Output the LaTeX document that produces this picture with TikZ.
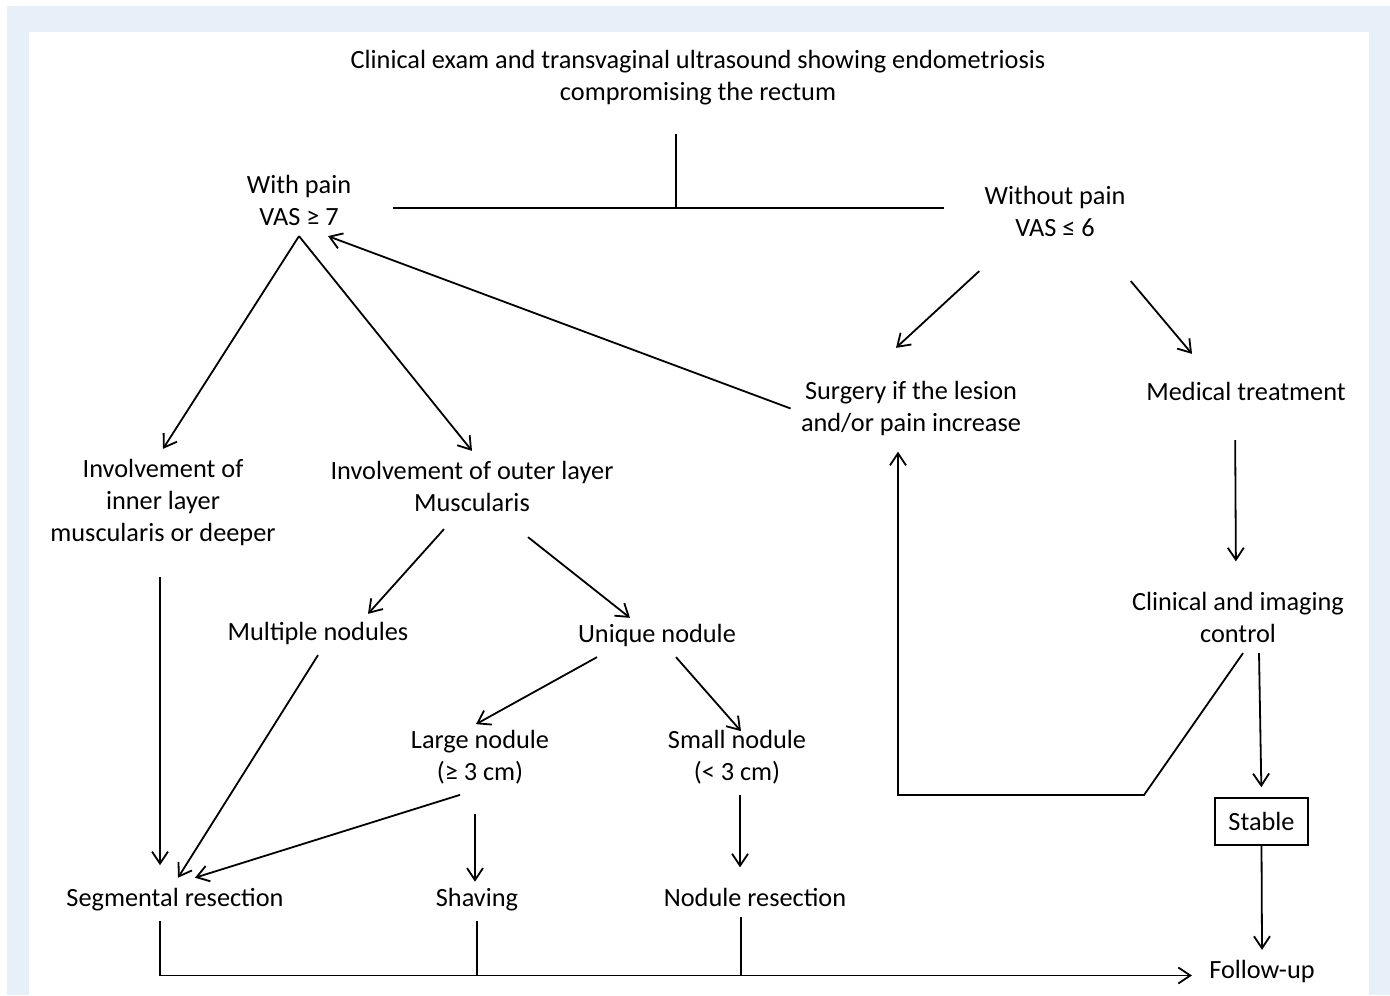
\documentclass[tikz,border=0pt]{standalone}
\usepackage{fontspec}
\setmainfont{Carlito}
\usepackage{tikz}
\usetikzlibrary{arrows.meta, positioning, calc}
\definecolor{framecolor}{RGB}{231, 239, 248}

\begin{document}
\begin{tikzpicture}[
    x=0.5pt, y=-0.5pt,
    entity/.style={align=center, inner sep=5pt, yshift=-1.25pt, font=\fontsize{13.15}{16}\selectfont},
    boxed/.style={align=center, draw, line width=0.8pt, minimum width=46.5pt, minimum height=23.5pt, font=\fontsize{13.15}{16}\selectfont},
    arrow/.style={-{Straight Barb[length=6pt, width=8pt]}, line width=0.9pt},
    link/.style={line width=0.9pt}
]
    % Frame
    \useasboundingbox (0,0) rectangle (1390,995);
    \fill[framecolor] (7,6) rectangle (1390,995);
    \fill[white] (29,32) rectangle (1369,995);

    % Main entities
    \node[entity] (exam) at (698,75) {Clinical exam and transvaginal ultrasound showing endometriosis\\compromising the rectum};
    \node[entity] (withpain) at (299,198) {With pain\\VAS ≥ 7};
    \node[entity] (nopain) at (1055,209) {Without pain\\VAS ≤ 6};
    \node[entity] (surgery) at (911,406) {Surgery if the lesion\\and/or pain increase};
    \node[entity] (medical) at (1246,389) {Medical treatment};
    \node[entity] (inner) at (163,500) {Involvement of\\inner layer\\muscularis or deeper};
    \node[entity] (outer) at (472,484) {Involvement of outer layer\\Muscularis};
    \node[entity] (multiple) at (318,631) {Multiple nodules};
    \node[entity] (unique) at (657,633) {Unique nodule};
    \node[entity] (clinical) at (1238,615) {Clinical and imaging\\control};
    \node[entity] (large) at (480,755) {Large nodule\\(≥ 3 cm)};
    \node[entity] (small) at (737,755) {Small nodule\\(< 3 cm)};
    \node[boxed] (stable) at (1261.5,821.5) {Stable};
    \node[entity] (segmental) at (175,897) {Segmental resection};
    \node[entity] (shaving) at (477,897) {Shaving};
    \node[entity] (noduleres) at (755,895) {Nodule resection};
    \node[entity] (followup) at (1262,969) {Follow-up};

    % Helper points
    \coordinate (split) at (676,208);
    \coordinate (bend) at (1144,795);
    \coordinate (busend) at ([yshift=-2pt]followup.west);
    \coordinate (resdrop) at ([xshift=-7pt]noduleres.south);

    % Pain split
    \draw[link, shorten <=9.5pt] (exam.south -| split) -- (split);
    \draw[link, shorten <=15.75pt, shorten >=15pt] (withpain.east |- split) -- (nopain.west |- split);

    % Relationships
    \draw[arrow] (withpain.south) -- (inner.north);
    \draw[arrow] (withpain.south) -- (outer.north);
    \draw[arrow] (surgery.west) -- ([xshift=14.5pt]withpain.south);
    \draw[arrow] ([xshift=2.5pt, yshift=-12pt]nopain.south west) -- ([xshift=-7.5pt, yshift=11.5pt]surgery.north);
    \draw[arrow] ([xshift=-2.5pt, yshift=-17pt]nopain.south east) -- ([xshift=-27pt, yshift=9pt]medical.north);
    \draw[arrow, shorten <=14.5pt, shorten >=10.25pt] ([xshift=-5.5pt]medical.south) -- ([xshift=-1pt]clinical.north);
    \draw[arrow, shorten >=5pt] ([xshift=10.5pt]clinical.south) -- (stable.north);
    \draw[arrow, shorten >=2.75pt] ([xshift=2.5pt]clinical.south) -- (bend) -| ([xshift=-6.5pt]surgery.south);
    \draw[arrow] (stable.south) -- (followup.north);
    \draw[arrow, shorten <=10.5pt, shorten >=6.25pt] ([xshift=-1.5pt]inner.south) -- ([xshift=-7.5pt]segmental.north);
    \draw[arrow] ([xshift=-14pt, yshift=-3.5pt]outer.south) -- ([xshift=25pt, yshift=-1pt]multiple.north);
    \draw[arrow] ([xshift=28pt, yshift=-7.5pt]outer.south) -- ([xshift=-13.5pt, yshift=-2pt]unique.north);
    \draw[arrow] (multiple.south) -- ([xshift=1.5pt]segmental.north);
    \draw[arrow] ([xshift=-30pt]unique.south) -- ([xshift=-2pt, yshift=-2pt]large.north);
    \draw[arrow] ([xshift=9.5pt]unique.south) -- ([xshift=2pt, yshift=-5.5pt]small.north);
    \draw[arrow] ([xshift=-10pt]large.south) -- ([xshift=10pt]segmental.north);
    \draw[arrow, shorten <=9.5pt] ([xshift=-2.5pt]large.south) -- ([xshift=-1pt, yshift=-2pt]shaving.north);
    \draw[arrow, shorten >=5.25pt] ([xshift=1.5pt]small.south) -- ([xshift=-7.5pt]noduleres.north);

    % Follow-up bus
    \draw[arrow, shorten >=3.5pt] ([xshift=-7.5pt]segmental.south) |- (busend);
    \draw[link] (shaving.south) -- (shaving.south |- busend);
    \draw[link] (resdrop) -- (resdrop |- busend);

\end{tikzpicture}
\end{document}
